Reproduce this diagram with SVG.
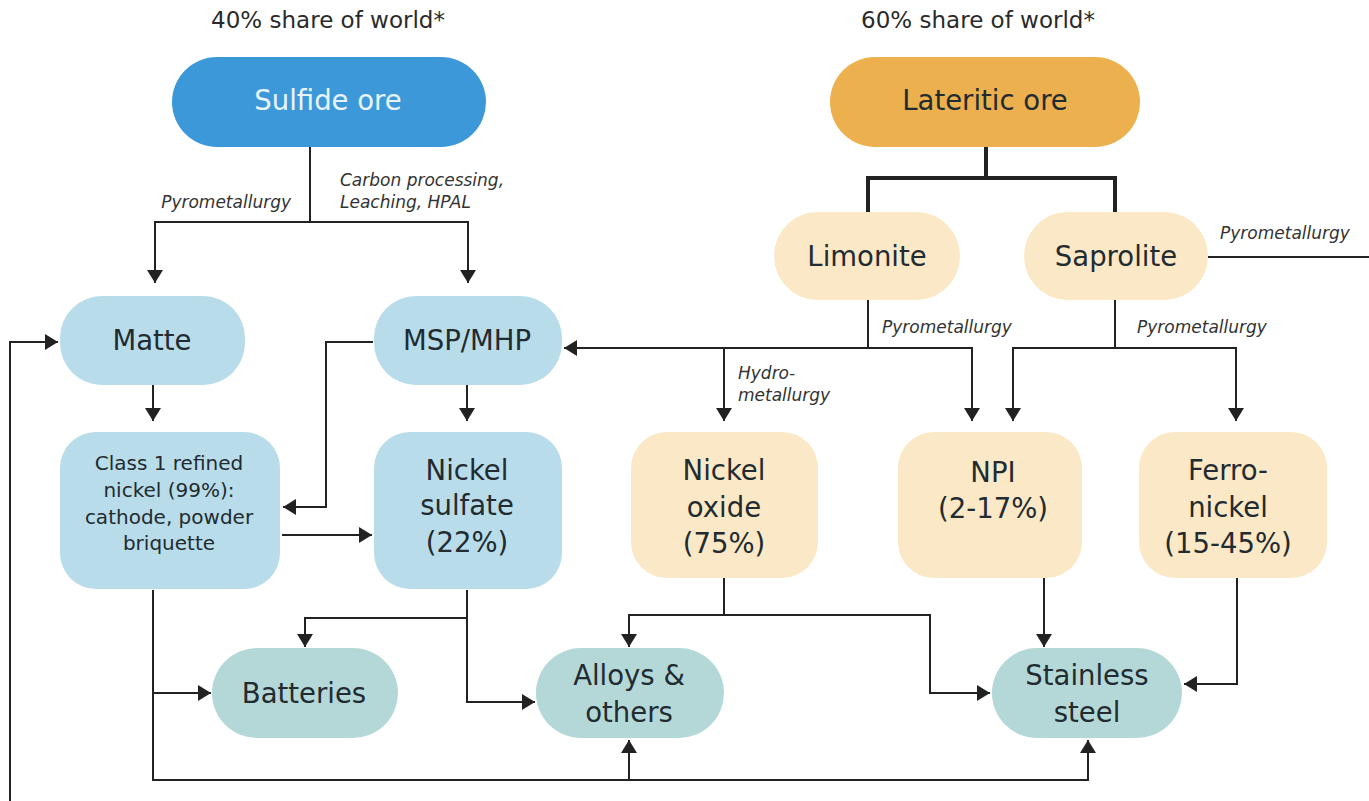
<svg xmlns="http://www.w3.org/2000/svg" width="1369" height="801" viewBox="0 0 1369 801">
<style>
.t{font-family:"DejaVu Sans","Liberation Sans",sans-serif;text-anchor:middle;fill:#222b30}
.h{font-size:23px;fill:#2a2a2a}
.n{font-size:27.5px}
.s{font-size:20px}
.l{font-family:"DejaVu Sans","Liberation Sans",sans-serif;font-style:italic;font-size:17px;fill:#333}
.c{fill:none;stroke:#222;stroke-width:2}
.blue{fill:#b8dcea}
.cream{fill:#fbe8c6}
.teal{fill:#b4d8d7}
</style>
<defs>
<marker id="ah" markerUnits="userSpaceOnUse" markerWidth="13" markerHeight="16" refX="13" refY="8" orient="auto">
<path d="M0,0 L13,8 L0,16 z" fill="#222"/>
</marker>
</defs>
<rect width="1369" height="801" fill="#fff"/>
<text class="t h" x="328" y="28">40% share of world*</text>
<text class="t h" x="978" y="28">60% share of world*</text>

<g id="connectors">
<path class="c" d="M310,147 V222"/>
<path class="c" d="M310,222 H155 V283" marker-end="url(#ah)"/>
<path class="c" d="M310,222 H468 V283" marker-end="url(#ah)"/>
<path d="M986,147 V178 M868,212 V178 H1115 V212" fill="none" stroke="#222" stroke-width="4"/>
<path class="c" d="M1208,257 H1369"/>
<path class="c" d="M10,801 V342 H58" marker-end="url(#ah)"/>
<path class="c" d="M153,385 V421" marker-end="url(#ah)"/>
<path class="c" d="M467,385 V421" marker-end="url(#ah)"/>
<path class="c" d="M373,342 H326 V507 H283" marker-end="url(#ah)"/>
<path class="c" d="M282,535 H372" marker-end="url(#ah)"/>
<path class="c" d="M868,300 V348"/>
<path class="c" d="M868,348 H564" marker-end="url(#ah)"/>
<path class="c" d="M868,348 H972 V421" marker-end="url(#ah)"/>
<path class="c" d="M724,348 V421" marker-end="url(#ah)"/>
<path class="c" d="M1115,300 V348"/>
<path class="c" d="M1115,348 H1013 V421" marker-end="url(#ah)"/>
<path class="c" d="M1115,348 H1236 V421" marker-end="url(#ah)"/>
<path class="c" d="M153,590 V780 H1088 V740" marker-end="url(#ah)"/>
<path class="c" d="M153,693 H211" marker-end="url(#ah)"/>
<path class="c" d="M629,780 V740" marker-end="url(#ah)"/>
<path class="c" d="M467,590 V702 H535" marker-end="url(#ah)"/>
<path class="c" d="M467,618 H305 V647" marker-end="url(#ah)"/>
<path class="c" d="M724,578 V615"/>
<path class="c" d="M724,615 H629 V647" marker-end="url(#ah)"/>
<path class="c" d="M724,615 H930 V693 H990" marker-end="url(#ah)"/>
<path class="c" d="M1044,578 V647" marker-end="url(#ah)"/>
<path class="c" d="M1237,578 V684 H1184" marker-end="url(#ah)"/>
<text class="l" x="291" y="208" text-anchor="end">Pyrometallurgy</text>
<text class="l" x="340" y="186">Carbon processing,</text>
<text class="l" x="340" y="208">Leaching, HPAL</text>
<text class="l" x="1220" y="239">Pyrometallurgy</text>
<text class="l" x="882" y="333">Pyrometallurgy</text>
<text class="l" x="1137" y="333">Pyrometallurgy</text>
<text class="l" x="738" y="379">Hydro-</text>
<text class="l" x="738" y="401">metallurgy</text>
</g>

<g id="sulfide">
<rect x="172" y="57" width="314" height="90" rx="45" fill="#3d98da"/>
<text class="t n" x="328" y="110" style="fill:#e8f4fc">Sulfide ore</text>
</g>
<g id="lateritic">
<rect x="830" y="57" width="310" height="90" rx="45" fill="#edb04f"/>
<text class="t n" x="985" y="110">Lateritic ore</text>
</g>
<g id="limonite">
<rect x="774" y="212" width="186" height="88" rx="44" class="cream"/>
<text class="t n" x="867" y="266">Limonite</text>
</g>
<g id="saprolite">
<rect x="1024" y="212" width="184" height="88" rx="44" class="cream"/>
<text class="t n" x="1116" y="266">Saprolite</text>
</g>
<g id="matte">
<rect x="60" y="296" width="185" height="89" rx="42" class="blue"/>
<text class="t n" x="152" y="350">Matte</text>
</g>
<g id="msp">
<rect x="374" y="296" width="188" height="89" rx="42" class="blue"/>
<text class="t n" x="467" y="350">MSP/MHP</text>
</g>
<g id="class1">
<rect x="60" y="432" width="220" height="157" rx="36" class="blue"/>
<text class="t s" x="169" y="470">Class 1 refined</text>
<text class="t s" x="169" y="497">nickel (99%):</text>
<text class="t s" x="169" y="524">cathode, powder</text>
<text class="t s" x="169" y="550">briquette</text>
</g>
<g id="nickelsulfate">
<rect x="374" y="432" width="188" height="157" rx="36" class="blue"/>
<text class="t n" x="467" y="480">Nickel</text>
<text class="t n" x="467" y="515">sulfate</text>
<text class="t n" x="467" y="552">(22%)</text>
</g>
<g id="nickeloxide">
<rect x="631" y="432" width="187" height="146" rx="36" class="cream"/>
<text class="t n" x="724" y="480">Nickel</text>
<text class="t n" x="724" y="517">oxide</text>
<text class="t n" x="724" y="553">(75%)</text>
</g>
<g id="npi">
<rect x="898" y="432" width="184" height="146" rx="36" class="cream"/>
<text class="t n" x="993" y="482">NPI</text>
<text class="t n" x="993" y="518">(2-17%)</text>
</g>
<g id="ferronickel">
<rect x="1139" y="432" width="188" height="146" rx="36" class="cream"/>
<text class="t n" x="1228" y="480">Ferro-</text>
<text class="t n" x="1228" y="517">nickel</text>
<text class="t n" x="1228" y="553">(15-45%)</text>
</g>
<g id="batteries">
<rect x="212" y="648" width="186" height="90" rx="45" class="teal"/>
<text class="t n" x="304" y="703">Batteries</text>
</g>
<g id="alloys">
<rect x="536" y="648" width="188" height="90" rx="45" class="teal"/>
<text class="t n" x="629" y="685">Alloys &amp;</text>
<text class="t n" x="629" y="722">others</text>
</g>
<g id="stainless">
<rect x="992" y="648" width="190" height="90" rx="45" class="teal"/>
<text class="t n" x="1087" y="685">Stainless</text>
<text class="t n" x="1087" y="722">steel</text>
</g>
</svg>
